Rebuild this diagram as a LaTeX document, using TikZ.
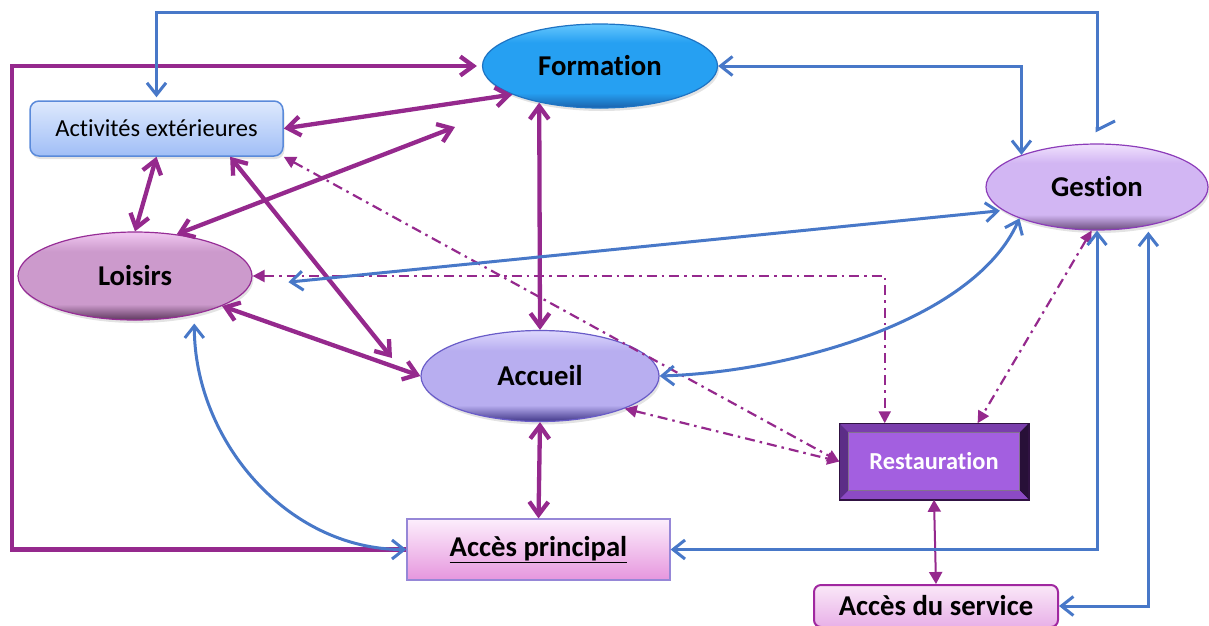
\documentclass[tikz,border=0pt]{standalone}
\usepackage{fontspec}
\setmainfont{Carlito}[Ligatures={NoCommon,NoContextual}]
\usetikzlibrary{arrows.meta,shapes.geometric,shadows,calc}

% line colours
\definecolor{plum}{RGB}{149,41,141}
\definecolor{steel}{RGB}{72,120,200}
% Formation
\definecolor{fTop}{RGB}{95,195,252}
\definecolor{fMid}{RGB}{38,160,242}
\definecolor{fBot}{RGB}{28,105,180}
\definecolor{fEdge}{RGB}{30,115,195}
% Gestion
\definecolor{gTop}{RGB}{238,222,252}
\definecolor{gMid}{RGB}{210,182,243}
\definecolor{gBot}{RGB}{118,88,138}
\definecolor{gEdge}{RGB}{140,60,185}
% Loisirs
\definecolor{lTop}{RGB}{238,196,238}
\definecolor{lMid}{RGB}{204,154,204}
\definecolor{lBot}{RGB}{105,66,105}
\definecolor{lEdge}{RGB}{150,45,150}
% Accueil
\definecolor{cTop}{RGB}{218,212,252}
\definecolor{cMid}{RGB}{184,174,240}
\definecolor{cBot}{RGB}{78,68,148}
\definecolor{cEdge}{RGB}{105,92,200}
% boxes
\definecolor{aTop}{RGB}{222,233,253}
\definecolor{aBot}{RGB}{160,190,246}
\definecolor{aEdge}{RGB}{90,138,218}
\definecolor{pTop}{RGB}{252,238,252}
\definecolor{pBot}{RGB}{230,150,222}
\definecolor{pEdge}{RGB}{150,135,215}
\definecolor{sTop}{RGB}{250,232,248}
\definecolor{sBot}{RGB}{232,176,232}
\definecolor{sEdge}{RGB}{160,40,160}
\definecolor{rFace}{RGB}{163,95,224}
\definecolor{rEdge}{RGB}{48,18,66}
\definecolor{rTop}{RGB}{122,62,172}
\definecolor{rLeft}{RGB}{92,45,135}
\definecolor{rRight}{RGB}{40,16,56}
\definecolor{rBot}{RGB}{140,74,196}

% glossy vertical shadings for the ellipses (path spans 25bp..75bp)
\pgfdeclareverticalshading{fshade}{100bp}{color(0bp)=(fBot); color(26bp)=(fBot); color(34bp)=(fMid); color(64bp)=(fMid); color(74bp)=(fTop); color(100bp)=(fTop)}
\pgfdeclareverticalshading{gshade}{100bp}{color(0bp)=(gBot); color(26bp)=(gBot); color(34bp)=(gMid); color(64bp)=(gMid); color(74bp)=(gTop); color(100bp)=(gTop)}
\pgfdeclareverticalshading{lshade}{100bp}{color(0bp)=(lBot); color(26bp)=(lBot); color(34bp)=(lMid); color(64bp)=(lMid); color(74bp)=(lTop); color(100bp)=(lTop)}
\pgfdeclareverticalshading{cshade}{100bp}{color(0bp)=(cBot); color(26bp)=(cBot); color(34bp)=(cMid); color(64bp)=(cMid); color(74bp)=(cTop); color(100bp)=(cTop)}

\begin{document}
\begin{tikzpicture}[x=1pt,y=-1pt,
  lbl/.style={font={\bfseries\fontsize{28.7}{30}\selectfont}, text=black},
  soft/.style={drop shadow={shadow xshift=1.5pt,shadow yshift=-3pt,opacity=0.22}},
  bubble/.style={ellipse, inner sep=0pt, lbl, soft, line width=1.2pt},
  fuse/.style={draw=plum, line width=4.3pt, >={Straight Barb[length=13pt,width=19pt]}},
  wire/.style={draw=steel, line width=3pt, >={Straight Barb[length=12pt,width=19pt]}},
  hint/.style={draw=plum, line width=2.2pt, dash pattern=on 10pt off 5pt on 2.5pt off 5pt, >={Triangle[length=12pt,width=12pt]}},
  link/.style={draw=plum, line width=2pt, >={Triangle[length=12pt,width=13pt]}},
]
\useasboundingbox (0,0) rectangle (1209,625);
\clip (0,0) rectangle (1209,625);

% ---- nodes ----
\node[bubble, minimum width=235pt, minimum height=84pt, shading=fshade, draw=fEdge] (F) at (600,66) {Formation};
\node[bubble, minimum width=222pt, minimum height=86pt, shading=gshade, draw=gEdge] (G) at (1097,187) {Gestion};
\node[bubble, minimum width=234pt, minimum height=88pt, shading=lshade, draw=lEdge] (L) at (135,276) {Loisirs};
\node[bubble, minimum width=238pt, minimum height=91pt, shading=cshade, draw=cEdge] (C) at (540,376) {Accueil};

\node[rectangle, rounded corners=9pt, minimum width=253pt, minimum height=55pt, inner sep=0pt,
  top color=aTop, bottom color=aBot, draw=aEdge, line width=1.5pt, soft,
  font={\fontsize{24.5}{26}\selectfont}] (A) at (156.5,128.5) {Activités extérieures};

\node[rectangle, minimum width=263pt, minimum height=61pt, inner sep=0pt,
  top color=pTop, bottom color=pBot, draw=pEdge, line width=1.2pt, lbl] (P) at (538.5,549.5) {\underline{Accès principal}};

\node[rectangle, rounded corners=7pt, minimum width=244pt, minimum height=42pt, inner sep=0pt,
  top color=sTop, bottom color=sBot, draw=sEdge, line width=2pt, lbl] (S) at (936,606) {Accès du service};

% bevelled Restauration block
\node[rectangle, minimum width=188pt, minimum height=75pt, inner sep=0pt, fill=rFace, draw=rEdge,
  line width=1.5pt, font={\bfseries\fontsize{24.4}{26}\selectfont}, text=white] (R) at (934,461.5) {Restauration};
\fill[rTop] (R.north west) -- (R.north east) -- ([shift={(-9,9)}]R.north east) -- ([shift={(9,9)}]R.north west) -- cycle;
\fill[rLeft] (R.north west) -- ([shift={(9,9)}]R.north west) -- ([shift={(9,-9)}]R.south west) -- (R.south west) -- cycle;
\fill[rRight] (R.north east) -- (R.south east) -- ([shift={(-9,-9)}]R.south east) -- ([shift={(-9,9)}]R.north east) -- cycle;
\fill[rBot] (R.south west) -- (R.south east) -- ([shift={(-9,-9)}]R.south east) -- ([shift={(9,-9)}]R.south west) -- cycle;
\draw[rEdge, line width=1.5pt] (R.north west) rectangle (R.south east);
\draw[rEdge!60, line width=0.8pt] ([shift={(9,9)}]R.north west) rectangle ([shift={(-9,-9)}]R.south east);

% ---- helper points ----
\coordinate (lp) at (12,0);
\coordinate (tp) at (0,12);
\coordinate (fx) at (455,127);
\coordinate (cx) at (392,358);

% ---- purple links ----
\draw[fuse, ->, shorten >=5pt] (P.west) -- (P.west -| lp) -- (lp |- F.west) -- (F.west);
\draw[fuse, <->] (A.east) -- (F.198);
\draw[fuse, <->] (L.45) -- (fx);
\draw[fuse, <->] (A.south) -- (L.north);
\draw[fuse, <->] (F.211) -- (C.north);
\draw[fuse, <->] (A.-21) -- (cx);
\draw[fuse, <->] (L.-19) -- (C.west);
\draw[fuse, <->] (C.south) -- (P.north);
\draw[link, <->] (R.south) -- (S.north);

% ---- dash-dotted links ----
\draw[hint, <->] (L.east) -| ($(R.north west)!0.24!(R.north east)$);
\draw[hint, <->] (A.south east) -- (R.west);
\draw[hint, <->] (C.-21) -- (R.west);
\draw[hint, <->] (G.263) -- ($(R.north west)!0.73!(R.north east)$);

% ---- blue links ----
\draw[wire, {Straight Barb[harpoon,length=9pt,width=36pt]}-{Straight Barb[length=12pt,width=19pt]}, shorten <=11pt, shorten >=3pt]
  (G.north) -- (G.north |- tp) -| (A.north);
\draw[wire, <->] (F.east) -| (G.157);
\draw[wire, <->, shorten <=39pt, shorten >=3pt] (L.-5) -- (G.194);
\draw[wire, <->] (C.east) .. controls +(131,-4) and +(-45,102) .. (G.202);
\draw[wire, <->, shorten <=9pt] (L.-33) .. controls +(0,125) and +(-120,0) .. (P.west);
\draw[wire, <->] (G.south) |- (P.east);
\draw[wire, <->, shorten <=6pt] (G.-37) |- (S.east);
\end{tikzpicture}
\end{document}
